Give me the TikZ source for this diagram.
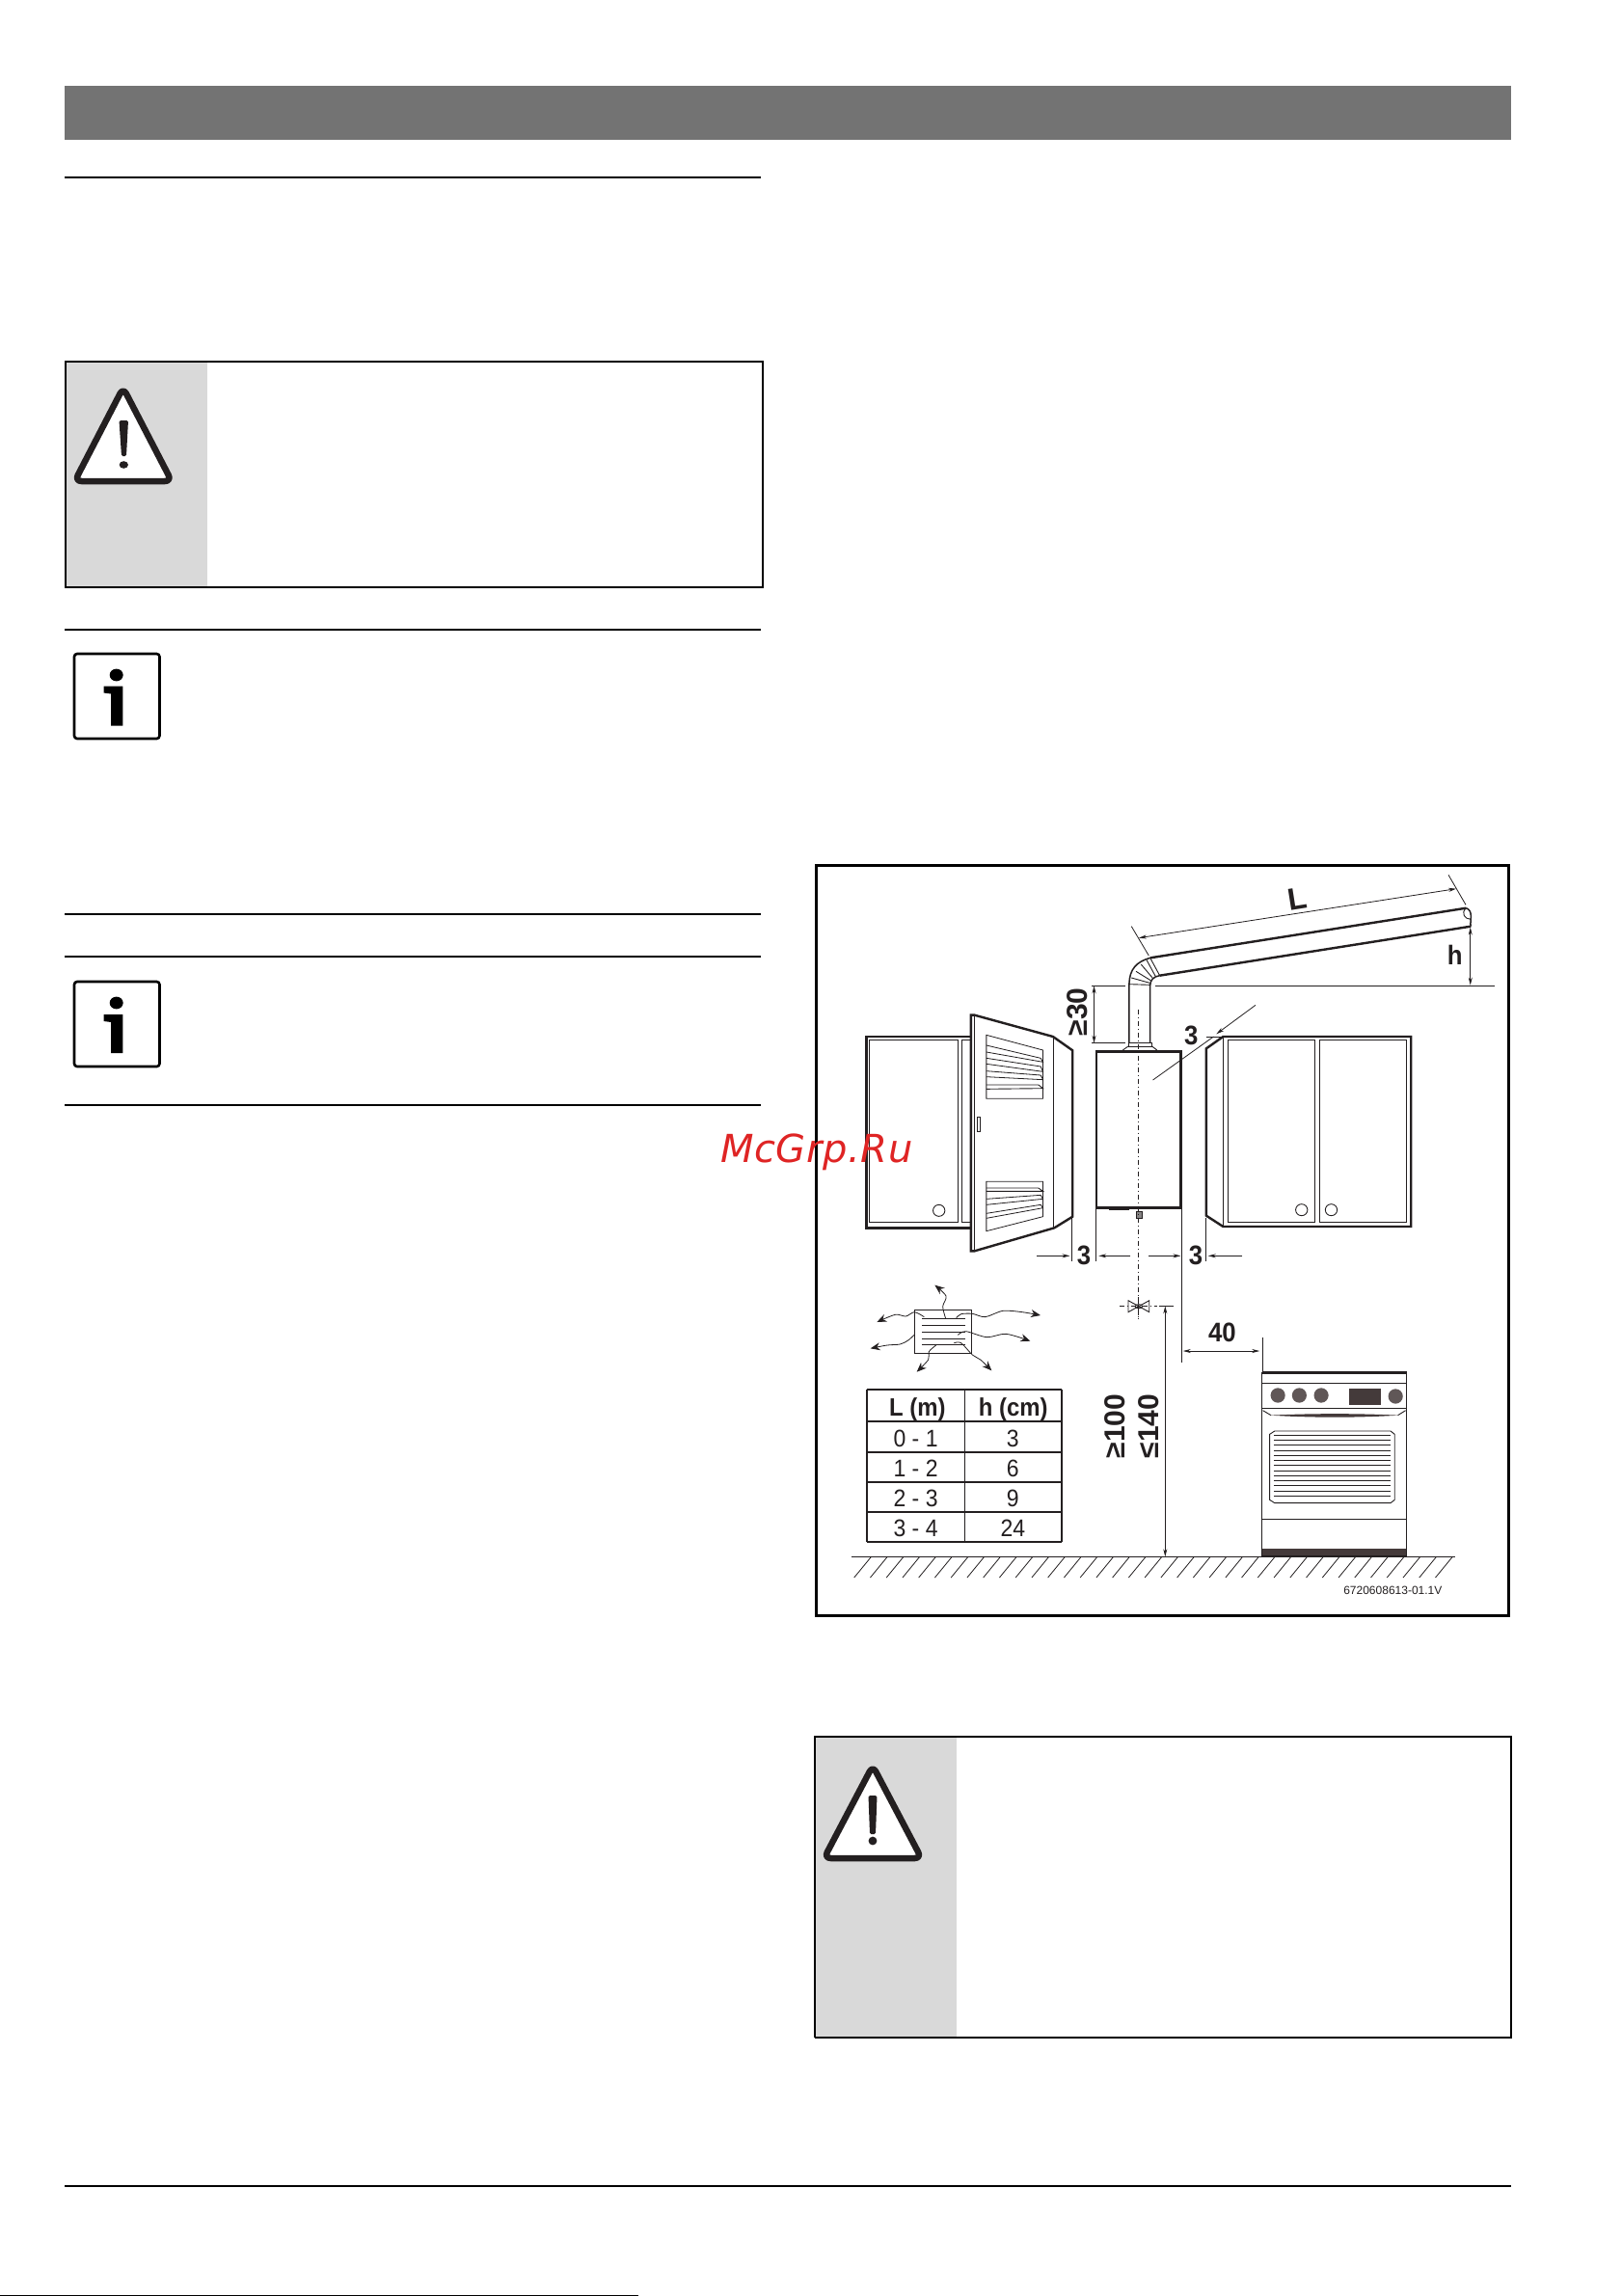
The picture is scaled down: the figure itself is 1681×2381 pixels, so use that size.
\documentclass[tikz,border=0pt]{standalone}
\usepackage{fontspec}
\setmainfont{Liberation Sans}
\newfontfamily\wmfont[LetterSpace=1.5]{DejaVu Sans}
\newfontfamily\narrowsans[FakeStretch=0.92]{Liberation Sans}
\newfontfamily\tablesans[FakeStretch=0.92]{Liberation Sans}
\usetikzlibrary{arrows.meta}
\definecolor{ink}{HTML}{231F20}
\definecolor{bandgray}{HTML}{737373}
\definecolor{boxgray}{HTML}{D9D9D9}
\definecolor{stovedark}{HTML}{443A3A}
\definecolor{wmred}{HTML}{DF2424}
\tikzset{
  pagerule/.style={draw=black,line width=2pt},
  heavy/.style={draw=ink,line width=2.4pt,line join=miter},
  mid/.style={draw=ink,line width=1.5pt},
  fine/.style={draw=ink,line width=0.9pt},
  dimline/.style={draw=ink,line width=0.8pt},
  dimtip/.style={dimline,-{Stealth[length=8pt,width=4pt]}},
  dimboth/.style={dimline,{Stealth[length=8pt,width=4pt]}-{Stealth[length=8pt,width=4pt]}},
  wavy/.style={draw=ink,line width=0.8pt,-{Stealth[length=10pt,width=8pt]}},
  centerline/.style={draw=ink,line width=0.8pt,dash pattern=on 5pt off 3pt on 1pt off 3pt},
  blab/.style={inner sep=0pt,anchor=base,text=ink,font=\fontsize{28}{28}\selectfont\narrowsans\bfseries},
  vlab/.style={inner sep=0pt,text=ink,rotate=90,font=\fontsize{30}{30}\selectfont\bfseries},
  thead/.style={inner sep=0pt,anchor=base,text=ink,font=\fontsize{26}{26}\selectfont\tablesans\bfseries},
  tcell/.style={inner sep=0pt,anchor=base,text=ink,font=\fontsize{25}{25}\selectfont\tablesans},
  warntri/.style={draw=ink,fill=white,line width=6.5pt,line join=round,rounded corners=7pt},
  infobox/.style={draw=black,fill=white,line width=2.6pt,rounded corners=3pt},
  zone/.style={x=0.473pt,y=-0.33333pt},
}
\begin{document}
\begin{tikzpicture}[x=1pt,y=-1pt]
\useasboundingbox (0,0) rectangle (1681,2381);
\fill[white] (0,0) rectangle (1681,2381);
% page furniture
\fill[bandgray] (67,89) rectangle (1566.5,144.7);
\draw[pagerule] (67,184) -- (788.5,184);
\draw[pagerule] (67,653) -- (788.5,653);
\draw[pagerule] (67,948) -- (788.5,948);
\draw[pagerule] (67,992) -- (788.5,992);
\draw[pagerule] (67,1146) -- (788.5,1146);
\draw[pagerule] (67,2266.7) -- (1566.5,2266.7);
\draw[draw=black,line width=1.2pt] (0,2380.4) -- (662,2380.4);
% warning box 1
\fill[boxgray] (68,375) rectangle (214.5,609);
\draw[draw=black,line width=2.2pt] (68,375) rectangle (791,609);
\draw[warntri] (127.7,402) -- (178,499) -- (77.5,499) -- cycle;
\fill[ink,rounded corners=1.5pt] (123.5,436) -- (133,436) -- (131,473) -- (126,473) -- cycle;
\fill[ink] (128.3,482) ellipse (4.6pt and 3.8pt);
% info icons
\draw[infobox] (77,678) rectangle (165.5,766);
\fill[black] (120.7,700) ellipse (7pt and 6.4pt);
\fill[black] (115,752.5) -- (127.3,752.5) -- (127.3,711.6) -- (107.7,711.6) -- (107.7,718.5) -- (115,719.5) -- cycle;
\draw[infobox] (77,1018) rectangle (165.5,1106);
\fill[black] (120.7,1040) ellipse (7pt and 6.4pt);
\fill[black] (115,1092) -- (127.3,1092) -- (127.3,1052) -- (107.7,1052) -- (107.7,1059) -- (115,1060) -- cycle;
% warning box 2
\fill[boxgray] (845,1801) rectangle (992,2113);
\draw[draw=black,line width=2.2pt] (845,2113) -- (845,1801) -- (1567,1801) -- (1567,2112);
\draw[draw=black,line width=1.3pt] (845,2113) -- (1568,2113);
\draw[warntri] (905,1831) -- (955.5,1927) -- (854.5,1927) -- cycle;
\fill[ink,rounded corners=1.5pt] (900.5,1862) -- (909.5,1862) -- (908,1902) -- (902,1902) -- cycle;
\fill[ink] (905,1909) circle (4.4pt);
% figure frame
\draw[draw=black,line width=3pt] (846,897) rectangle (1564,1675);

% ---- figure, upper part
\begin{scope}[shift={(840.3,890)},zone]
  % flue duct
  \draw[heavy] (745,310) -- (1438,155);
  \draw[heavy] (766,365) -- (1448,212);
  \draw[mid] (1438,155) .. controls (1455,165) and (1445,195) .. (1448,212);
  \draw[fine] (1438,155) .. controls (1425,170) and (1435,190) .. (1448,190);
  \draw[mid] (699,575) -- (699,390) .. controls (700,345) and (715,322) .. (745,310);
  \draw[mid] (745,575) -- (745,395) .. controls (745,380) and (752,368) .. (766,365);
  \draw[fine] (745,394) -- (699,392);
  \draw[fine] (744,388) -- (704,372);
  \draw[fine] (746,380) -- (714,352);
  \draw[fine] (750,372) -- (725,330);
  \draw[fine] (757,368) -- (737,316);
  \draw[fine] (766,365) -- (745,310);
  % reference lines
  \draw[mid] (617,397) -- (690,397);
  \draw[mid] (757,397) -- (1500,397);
  \draw[mid] (617,575) -- (690,575);
  \draw[dimboth] (622,397) -- (622,575);
  \node[vlab] (ge30) at (585,478) {≥30};
  % L dimension
  \draw[dimline] (704,212) -- (742,303);
  \draw[dimline] (1399,52) -- (1437,145);
  \draw[dimboth] (720,248) -- (1416,95);
  \node[blab,anchor=center,rotate=9,font=\fontsize{32}{32}\selectfont\bfseries] (Llab) at (1068,125) {L};
  % h dimension
  \draw[dimboth] (1447,215) -- (1447,395);
  \node[blab] (hlab) at (1413,330) {h};
  % left cabinet
  \draw[heavy] (352,555) -- (123,555) -- (123,1150) -- (352,1150);
  \draw[fine] (130,566) rectangle (323,1132);
  \draw[fine] (352,566) -- (333,566) -- (333,1132) -- (352,1132);
  \draw[fine] (282,1096) ellipse [x radius=13,y radius=18];
  % door
  \draw[heavy] (352,488) -- (360,488) -- (532,555) -- (575,598) -- (575,1115) -- (535,1150) -- (360,1222) -- (352,1222) -- cycle;
  \draw[fine] (360,488) -- (360,1222);
  \draw[fine] (533,555) -- (533,1150);
  \draw[fine] (365,805) rectangle (372,851);
  % door vents
  \draw[dimline] (386,550) -- (510,597) -- (510,748) -- (386,748) -- cycle;
  \draw[dimline] (386,582) -- (505,622) -- (510,634) -- (386,603);
  \draw[dimline] (386,622) -- (505,648) -- (510,664) -- (386,640);
  \draw[dimline] (386,662) -- (505,675) -- (510,689) -- (386,680);
  \draw[fine] (386,705) -- (500,705) -- (510,716) -- (386,718);
  \draw[dimline] (386,1006) -- (510,1006) -- (510,1115) -- (386,1160) -- cycle;
  \draw[fine] (386,1026) -- (500,1026) -- (510,1036) -- (386,1036);
  \draw[dimline] (386,1060) -- (505,1048) -- (510,1060) -- (386,1078);
  \draw[dimline] (386,1105) -- (505,1078) -- (510,1088) -- (386,1120);
  % heater
  \draw[heavy] (627,602) rectangle (813,1087);
  \draw[draw=ink,line width=3pt] (813,602) -- (813,1087);
  \draw[fine] (697,575) rectangle (749,585);
  \draw[fine] (697,585) -- (685,597);
  \draw[fine] (749,585) -- (760,597);
  \draw[draw=ink,line width=1.6pt] (655,1093) -- (700,1093);
  \draw[draw=ink,fill=ink!55!white,line width=0.9pt] (715,1098) rectangle (727,1120);
  % right cabinet
  \draw[heavy] (905,555) -- (1317,555) -- (1317,1146) -- (905,1146) -- (868,1112) -- (868,592) -- cycle;
  \draw[mid] (905,555) -- (905,1146);
  \draw[fine] (916,566) rectangle (1107,1132);
  \draw[fine] (1116,566) rectangle (1307,1132);
  \draw[fine] (1077,1094) ellipse [x radius=13,y radius=18];
  \draw[fine] (1142,1094) ellipse [x radius=13,y radius=18];
  % diagonal 3
  \draw[dimline] (751,690) -- (884,555);
  \draw[dimline] (868,555) -- (905,555);
  \draw[dimtip] (976,457) -- (890,547);
  \node[blab] (dia3) at (835,580) {3};
  % extension lines
  \draw[centerline] (718,470) -- (718,1435);
  \draw[dimline] (815,1090) -- (815,1570);
  \draw[dimline] (627,1090) -- (627,1255);
  \draw[dimline] (573,1120) -- (573,1255);
  \draw[dimline] (868,1120) -- (868,1255);
  \draw[dimtip] (497,1237) -- (569,1237);
  \draw[dimtip] (702,1237) -- (632,1237);
  \draw[dimtip] (742,1237) -- (812,1237);
  \draw[dimtip] (947,1237) -- (872,1237);
  \node[blab] (gapL) at (600,1265) {3};
  \node[blab] (gapR) at (845,1265) {3};
\end{scope}

% ---- figure, lower part
\begin{scope}[shift={(840.3,1280)},zone]
  % valve
  \draw[fine] (697,206) -- (743,242) -- (743,206) -- (697,242) -- cycle;
  \draw[fine] (720,224) ellipse [x radius=8,y radius=6];
  \draw[centerline] (678,223) -- (760,223);
  \draw[centerline] (718,195) -- (718,265);
  % height dimension
  \draw[dimline] (765,223) -- (797,223);
  \draw[dimboth] (778,223) -- (778,1003);
  \node[vlab] (ge100) at (668,597) {≥100};
  \node[vlab] (le140) at (741,597) {≤140};
  % 40 dimension
  \draw[dimboth] (817,363) -- (985,363);
  \draw[dimline] (991,322) -- (991,432);
  \node[blab] (d40) at (903,333) {40};
  % table
  \draw[draw=ink,line width=1pt] (338,483) -- (338,958);
  \draw[draw=ink,line width=2pt] (125,483) -- (125,958);
  \draw[draw=ink,line width=2pt] (551,483) -- (551,958);
  \foreach \yy in {483,581,677,771,864,958}
    \draw[draw=ink,line width=2.3pt] (124,\yy) -- (552,\yy);
  \node[thead] (th1) at (235,565) {L (m)};
  \node[thead] (th2) at (445,565) {h (cm)};
  \node[tcell] (c11) at (231,660) {0 - 1};
  \node[tcell] (c12) at (444,660) {3};
  \node[tcell] (c21) at (231,753) {1 - 2};
  \node[tcell] (c22) at (444,753) {6};
  \node[tcell] (c31) at (231,847) {2 - 3};
  \node[tcell] (c32) at (444,847) {9};
  \node[tcell] (c41) at (231,940) {3 - 4};
  \node[tcell] (c42) at (444,940) {24};
  % stove
  \fill[stovedark] (990,979) rectangle (1307,1003);
  \draw[draw=ink,line width=1.8pt] (990,431) rectangle (1307,1003);
  \draw[draw=ink,line width=2.4pt] (990,431) -- (1307,431);
  \draw[fine] (990,463) -- (1307,463);
  \draw[fine] (990,542) -- (1307,542);
  \draw[fine] (990,886) -- (1307,886);
  \fill[stovedark!85!white] (1025,501) ellipse [x radius=16,y radius=23];
  \fill[stovedark!85!white] (1072,501) ellipse [x radius=16,y radius=23];
  \fill[stovedark!85!white] (1120,501) ellipse [x radius=16,y radius=23];
  \fill[stovedark!85!white] (1283,504) ellipse [x radius=16,y radius=23];
  \fill[stovedark] (1182,480) rectangle (1250,531);
  \draw[fine] (992,548) -- (1010,563);
  \draw[fine] (1305,548) -- (1288,563);
  \fill[stovedark] (1008,563) .. controls (1100,557) and (1200,557) .. (1290,563) .. controls (1200,571) and (1100,571) .. (1008,563) -- cycle;
  \draw[fine] (1007,622) -- (1018,612) -- (1272,612) -- (1281,622) -- (1281,826) -- (1272,836) -- (1018,836) -- (1007,826) -- cycle;
  \foreach \yy in {0,...,12}
    \draw[draw=ink,line width=1pt] (1017,625+15.75*\yy) -- (1272,625+15.75*\yy);
  % floor
  \draw[mid] (90,1003) -- (1413,1003);
  \foreach \xx in {0,...,36}
    \draw[dimline] (96+35.4*\xx,1068) -- (133+35.4*\xx,1004);
  \node[inner sep=0pt,text=ink,font=\fontsize{12}{12}\selectfont] (code) at (1277,1107) {6720608613-01.1V};
\end{scope}

% ---- ventilation icon
\begin{scope}[shift={(880,1320)},x=0.33333pt,y=-0.33333pt]
  \draw[fine] (205,115) rectangle (382,250);
  \foreach \yy in {142,163,184,205,223}
    \draw[draw=ink,line width=1.1pt] (228,\yy) -- (362,\yy);
  \draw[wavy] plot[smooth] coordinates {(302,142) (293,105) (303,72) (268,38)};
  \draw[wavy] plot[smooth] coordinates {(235,137) (205,122) (178,135) (145,130) (88,153)};
  \draw[wavy] plot[smooth] coordinates {(335,140) (350,128) (385,127) (425,137) (480,118) (540,122) (597,132)};
  \draw[wavy] plot[smooth] coordinates {(205,192) (185,210) (160,222) (120,225) (68,235)};
  \draw[wavy] plot[smooth] coordinates {(340,193) (365,182) (430,200) (490,190) (565,212)};
  \draw[wavy] plot[smooth] coordinates {(272,225) (250,245) (248,270) (212,308)};
  \draw[wavy] plot[smooth] coordinates {(328,218) (350,218) (385,255) (410,270) (445,304)};
\end{scope}

% watermark
\node[inner sep=0pt,anchor=base west,text=wmred,font=\fontsize{40}{40}\selectfont\wmfont\itshape] (wm) at (747,1205) {McGrp.Ru};
\end{tikzpicture}
\end{document}
